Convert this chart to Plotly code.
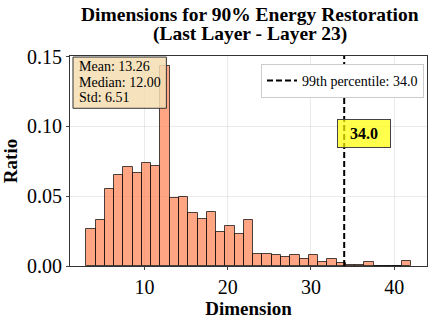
import numpy as np
import plotly.graph_objects as go

# histogram of dimensions (35 bins from 3 to 42), values as ratio of samples
bin_start = 3
bin_end = 42
n_bins = 35
ratios = [
    0.0268, 0.0328, 0.0549, 0.0650, 0.0709, 0.0669, 0.0739, 0.0718, 0.1432,
    0.0488, 0.0497, 0.0378, 0.0338, 0.0385, 0.0246, 0.0284, 0.0228, 0.0326,
    0.0087, 0.0087, 0.0077, 0.0068, 0.0077, 0.0047, 0.0077, 0.0028, 0.0047,
    0.0019, 0.0010, 0.0010, 0.0026, 0.0, 0.0, 0.0, 0.0037,
]
p99 = 34.0
stat_lines = ["Mean: 13.26", "Median: 12.00", "Std: 6.51"]
title_lines = ["Dimensions for 90% Energy Restoration", "(Last Layer - Layer 23)"]

edges = np.linspace(bin_start, bin_end, n_bins + 1)
centers = (edges[:-1] + edges[1:]) / 2
width = edges[1] - edges[0]

serif = "Liberation Serif, Times New Roman, serif"
y_top = max(ratios) * 1.05

fig = go.Figure()

fig.add_trace(
    go.Bar(
        x=centers,
        y=ratios,
        width=width,
        marker=dict(
            color="rgba(255,127,80,0.7)",
            line=dict(color="rgba(0,0,0,0.7)", width=1),
        ),
        showlegend=False,
    )
)

# 99th percentile line
fig.add_trace(
    go.Scatter(
        x=[p99, p99],
        y=[0, y_top],
        mode="lines",
        line=dict(color="black", width=2, dash="6px,3px"),
        name=f"99th percentile: {p99:.1f}",
    )
)

# label box next to the percentile line
fig.add_annotation(
    x=36.43, y=0.0947, text=f"<b>{p99:.1f}</b>", showarrow=False,
    font=dict(family=serif, size=16, color="black"),
    width=48, height=23, borderpad=2,
    bgcolor="rgba(255,255,0,0.7)", bordercolor="#444", borderwidth=1,
)

# stats box (top-left)
fig.add_shape(
    type="rect", xref="paper", yref="paper",
    x0=0.0084, x1=0.270, y0=0.751, y1=0.995,
    fillcolor="rgba(245,222,179,0.85)", line=dict(color="#333", width=1),
)
for line, yy in zip(stat_lines, [0.951, 0.876, 0.801]):
    fig.add_annotation(
        xref="paper", yref="paper", x=0.0195, y=yy, xanchor="left", yanchor="middle",
        text=line, showarrow=False,
        font=dict(family=serif, size=14, color="black"),
    )

# two-line bold title
for line, yy in zip(title_lines, [1.197, 1.104]):
    fig.add_annotation(
        xref="paper", yref="paper", x=0.504, y=yy, xanchor="center", yanchor="middle",
        text=f"<b>{line}</b>", showarrow=False,
        font=dict(family=serif, size=19.5, color="black"),
    )

fig.update_layout(
    width=438,
    height=321,
    margin=dict(l=69, r=10, t=56, b=52),
    plot_bgcolor="white",
    paper_bgcolor="white",
    font=dict(family=serif, color="black"),
    bargap=0,
    legend=dict(
        x=0.9916, y=0.962, xanchor="right", yanchor="top",
        bgcolor="white", bordercolor="#ccc", borderwidth=1,
        font=dict(family=serif, size=14),
    ),
)

fig.update_xaxes(
    range=[1.05, 43.95],
    tickvals=[10, 20, 30, 40],
    tickfont=dict(family=serif, size=20),
    title=dict(text="<b>Dimension</b>", font=dict(family=serif, size=19), standoff=0),
    showgrid=True, gridcolor="rgba(0,0,0,0.08)",
    showline=True, linecolor="#333", mirror=True,
    ticks="outside", ticklen=3, zeroline=False,
)
fig.update_yaxes(
    range=[0, y_top],
    tickvals=[0, 0.05, 0.10, 0.15],
    tickformat=".2f",
    tickfont=dict(family=serif, size=20),
    title=dict(text="<b>Ratio</b>", font=dict(family=serif, size=19), standoff=4),
    showgrid=True, gridcolor="rgba(0,0,0,0.08)",
    showline=True, linecolor="#333", mirror=True,
    ticks="outside", ticklen=3, zeroline=False,
)

fig.write_html(
    "out.html",
    config={"displayModeBar": False},
    post_script="document.body.style.margin='0';",
)
